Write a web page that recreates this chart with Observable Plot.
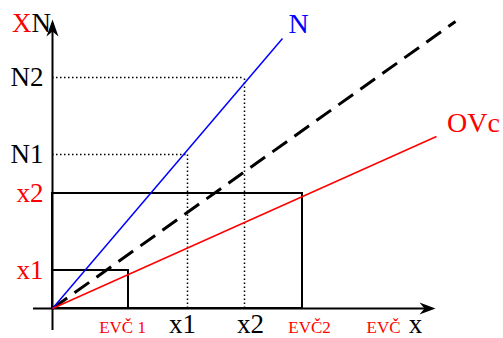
<!DOCTYPE html>
<html>
<head>
<meta charset="utf-8">
<script src="https://cdn.jsdelivr.net/npm/d3@7"></script>
<script src="https://cdn.jsdelivr.net/npm/@observablehq/plot@0.6"></script>
<style>
  html, body { margin: 0; padding: 0; background: #fff; }
  #chart { width: 503px; height: 338px; }
</style>
</head>
<body>
<div id="chart"></div>
<script>
// ---- data (conceptual units) ----
const seriesNames = ["N", "OVc", "diag"];
const lineEndX = [230, 384, 403];
const lineEndY = [270, 172, 287];

const boxX = [76, 250];          // EVČ 1, EVČ2
const boxY = [38, 115];          // x1, x2 (on vertical axis)

const guideX = [135, 192];       // x1, x2 (on horizontal axis)
const guideY = [154, 231];       // N1, N2

const bottomRedLabels = ["EVČ 1", "EVČ2", "EVČ"];
const bottomRedValues = [70, 257, 331];
const bottomBlackLabels = ["x1", "x2", "x"];
const bottomBlackValues = [130, 198, 363];

const leftLabels = ["x1", "x2", "N1", "N2"];
const leftValues = [38, 115, 154, 231];
const leftColors = ["red", "red", "black", "black"];

const axisXEnd = 383, axisYEnd = 289;

// ---- build tables ----
const lines = seriesNames.map((s, i) => ({ s, x2: lineEndX[i], y2: lineEndY[i] }));
const boxes = boxX.map((x, i) => ({ x, y: boxY[i] }));
const guides = guideX.map((x, i) => ({ x, y: guideY[i] }));
const redB = bottomRedLabels.map((t, i) => ({ t, x: bottomRedValues[i] }));
const blackB = bottomBlackLabels.map((t, i) => ({ t, x: bottomBlackValues[i] }));
const lefts = leftLabels.map((t, i) => ({ t, y: leftValues[i], c: leftColors[i] }));

const arrowUp = { draw(ctx) { ctx.moveTo(0, 0); ctx.lineTo(6, 17); ctx.lineTo(0, 12); ctx.lineTo(-6, 17); ctx.closePath(); } };
const arrowRight = { draw(ctx) { ctx.moveTo(0, 0); ctx.lineTo(-16, 6); ctx.lineTo(-11, 0); ctx.lineTo(-16, -6); ctx.closePath(); } };

const font = "Liberation Serif, Times New Roman, serif";
const colorOf = { N: "#0000ff", OVc: "#ff0000", diag: "#000" };

const chart = Plot.plot({
  width: 503, height: 338,
  marginLeft: 0, marginRight: 0, marginTop: 0, marginBottom: 0,
  x: { domain: [-52, 451], axis: null },
  y: { domain: [-30, 308], axis: null },
  style: { fontFamily: font, background: "#fff", overflow: "visible" },
  marks: [
    // dotted guides
    Plot.ruleY(guides, { y: "y", x1: 0, x2: "x", stroke: "#000", strokeWidth: 1.5, strokeDasharray: "1.5,2.5" }),
    Plot.ruleX(guides, { x: "x", y1: 0, y2: "y", stroke: "#000", strokeWidth: 1.5, strokeDasharray: "1.5,2.5" }),
    // boxes
    Plot.rect(boxes, { x1: 0, x2: "x", y1: 0, y2: "y", fill: "none", stroke: "#000", strokeWidth: 2 }),
    // axes
    Plot.ruleY([0], { x1: -19, x2: axisXEnd - 4, stroke: "#000", strokeWidth: 2 }),
    Plot.ruleX([0], { y1: -22, y2: axisYEnd - 4, stroke: "#000", strokeWidth: 2 }),
    Plot.dot([{ x: axisXEnd, y: 0 }], { x: "x", y: "y", symbol: arrowRight, fill: "#000", stroke: "none", r: 5 }),
    Plot.dot([{ x: 0, y: axisYEnd }], { x: "x", y: "y", symbol: arrowUp, fill: "#000", stroke: "none", r: 5 }),
    // lines
    Plot.link(lines.filter(d => d.s === "diag"), { x1: 0, y1: 0, x2: "x2", y2: "y2", stroke: "#000", strokeWidth: 3, strokeDasharray: "18,9" }),
    Plot.link(lines.filter(d => d.s !== "diag"), { x1: 0, y1: 0, x2: "x2", y2: "y2", stroke: d => colorOf[d.s], strokeWidth: 1.5 }),
    // series labels
    Plot.text(lines.filter(d => d.s === "N"), { x: "x2", y: "y2", text: "s", fill: "#0000ff", fontSize: 28, dx: 16, dy: -14, fontFamily: font }),
    Plot.text(lines.filter(d => d.s === "OVc"), { x: "x2", y: "y2", text: "s", fill: "#ff0000", fontSize: 28, dx: 37, dy: -13, fontFamily: font }),
    // left labels
    Plot.text(lefts, { x: 0, y: "y", text: "t", fill: "c", fontSize: 27, textAnchor: "end", dx: -9, fontFamily: font }),
    // top-left XN
    Plot.text([{ t: "X", y: axisYEnd }], { x: 0, y: "y", text: "t", fill: "#ff0000", fontSize: 27, textAnchor: "end", dx: -21, dy: 4, fontFamily: font }),
    Plot.text([{ t: "N", y: axisYEnd }], { x: 0, y: "y", text: "t", fill: "#000", fontSize: 27, textAnchor: "start", dx: -21, dy: 4, fontFamily: font }),
    // bottom labels
    Plot.text(blackB, { x: "x", y: 0, text: "t", fill: "#000", fontSize: 27, dy: 16, fontFamily: font }),
    Plot.text(redB, { x: "x", y: 0, text: "t", fill: "#ff0000", fontSize: 17, dy: 19, fontFamily: font })
  ]
});
document.getElementById("chart").appendChild(chart);
</script>
</body>
</html>
